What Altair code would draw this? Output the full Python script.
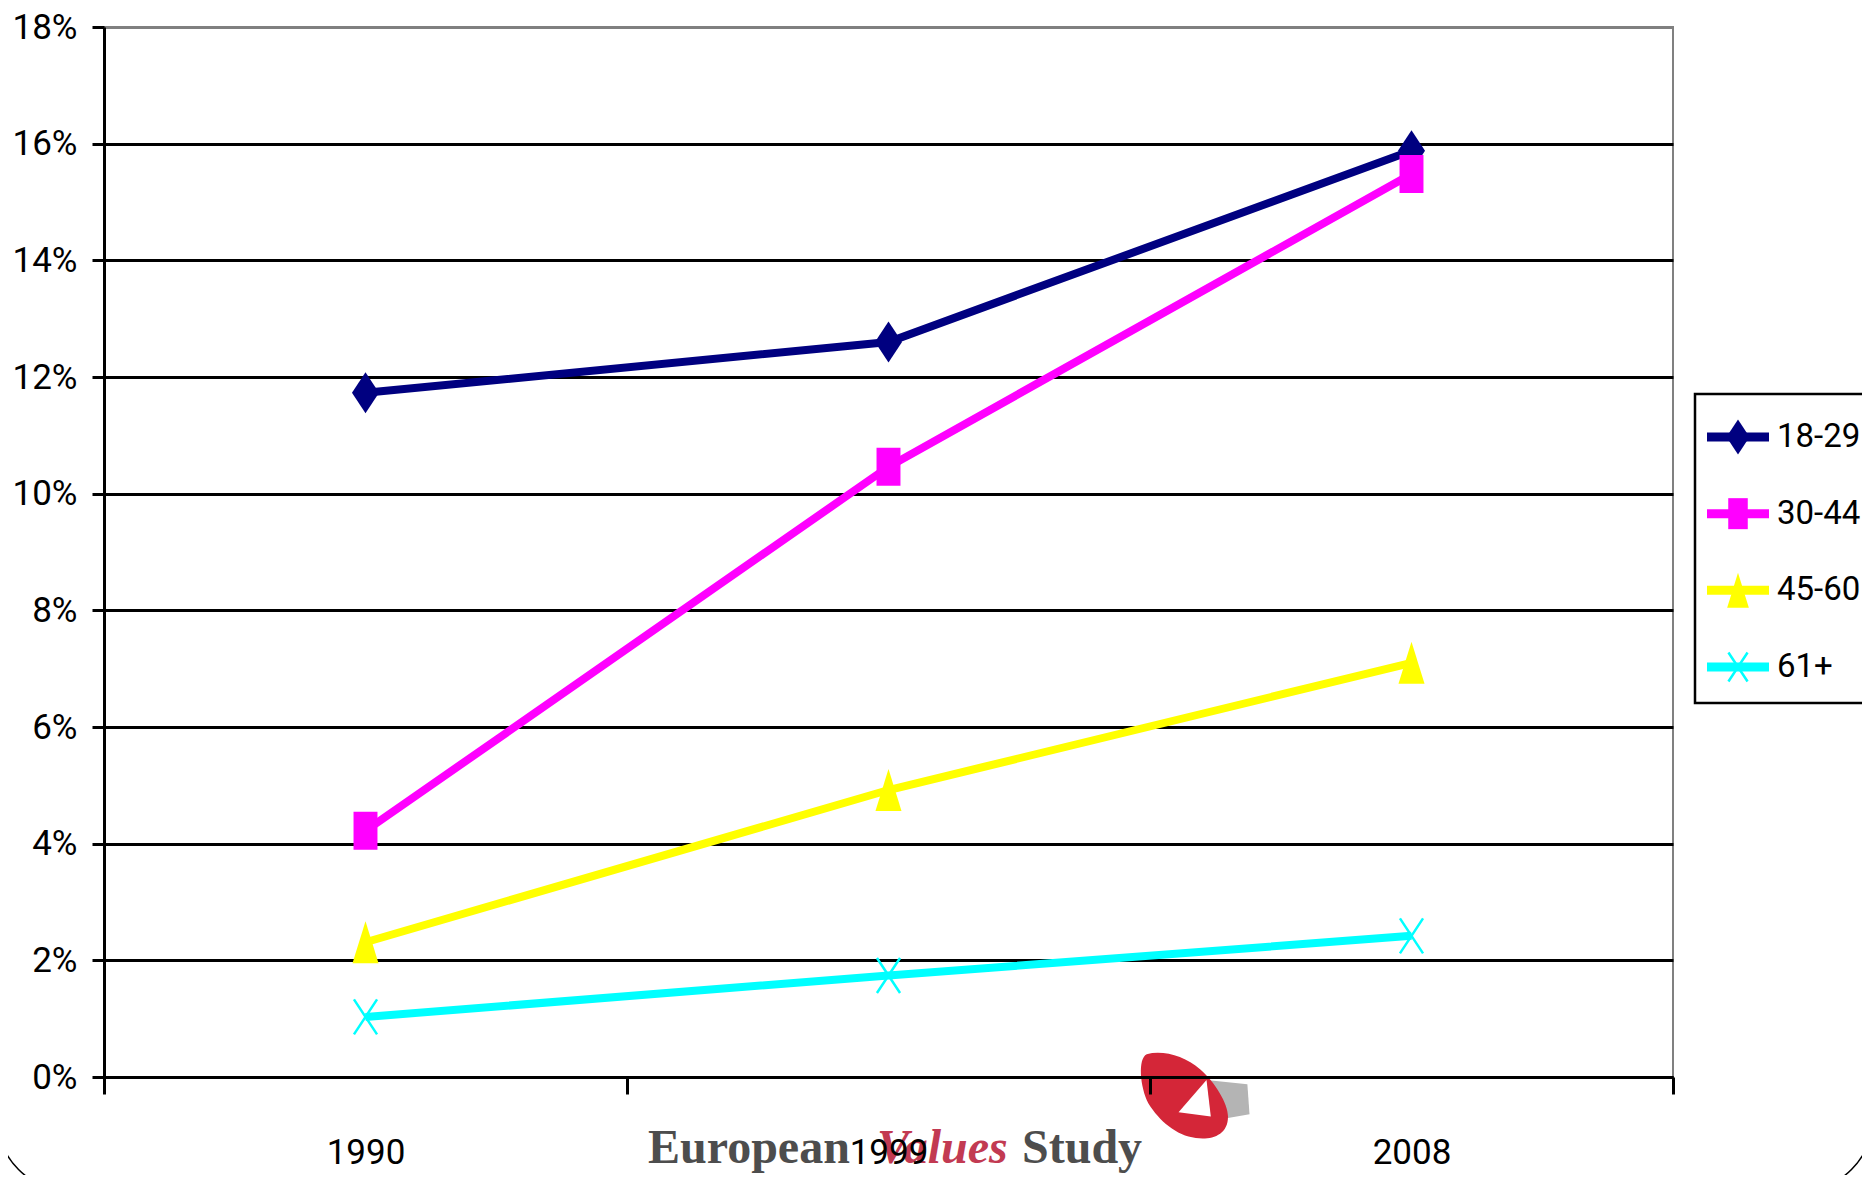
import altair as alt
import pandas as pd

# ---- data ----
years = ["1990", "1999", "2008"]
series = ["18-29", "30-44", "45-60", "61+"]
v_18_29 = [0.1173, 0.1260, 0.1588]
v_30_44 = [0.0422, 0.1046, 0.1548]
v_45_60 = [0.0231, 0.0492, 0.0710]
v_61_plus = [0.0103, 0.0174, 0.0242]
y_ticks = [0, 0.02, 0.04, 0.06, 0.08, 0.10, 0.12, 0.14, 0.16, 0.18]
colors = ["#000080", "#FF00FF", "#FFFF00", "#00FFFF"]

values_by_series = [v_18_29, v_30_44, v_45_60, v_61_plus]
rows = []
for s, vals in zip(series, values_by_series):
    for yr, v in zip(years, vals):
        rows.append({"year": yr, "series": s, "value": v})
df = pd.DataFrame(rows)
legend_df = pd.DataFrame({"series": series})
one = pd.DataFrame({"k": [0]})

# marker shapes (Excel-like, tall)
DIAMOND = "M0,-1L0.66,0L0,1L-0.66,0Z"
SQUARE = "M-0.63,-1L0.63,-1L0.63,1L-0.63,1Z"
TRIANGLE = "M0,-1L0.62,1L-0.62,1Z"
XMARK = "M-0.66,-1L0.66,1M0.66,-1L-0.66,1"
shapes = [DIAMOND, SQUARE, TRIANGLE, XMARK]
sizes = [1681, 1444, 1764, 1225]
legend_sizes = [1225, 961, 1225, 841]

FONT = "Roboto"
FS = 35
SERIF = "Liberation Serif, DejaVu Serif, serif"

color = alt.Color("series:N", scale=alt.Scale(domain=series, range=colors), legend=None)

x_enc = alt.X(
    "year:O",
    scale=alt.Scale(type="band", domain=years, paddingInner=0, paddingOuter=0),
    axis=alt.Axis(
        title=None, labelAngle=0, labelFont=FONT, labelFontSize=FS, labelColor="black",
        labelPadding=41, tickSize=17, tickWidth=3, tickColor="black",
        domainColor="black", domainWidth=3, tickBand="extent", grid=False, zindex=1,
    ),
)
y_enc = alt.Y(
    "value:Q",
    scale=alt.Scale(domain=[0, 0.18], nice=False, zero=True),
    axis=alt.Axis(
        values=y_ticks, format=".0%", title=None, labelFont=FONT, labelFontSize=FS,
        labelColor="black", labelPadding=15, tickSize=12, tickWidth=3, tickColor="black",
        domainColor="black", domainWidth=3, grid=True, gridWidth=3,
        gridColor={"condition": {"test": "datum.value >= 0.179", "value": "#808080"}, "value": "black"},
    ),
)

base = alt.Chart(df)
lines = base.mark_line(strokeWidth=8).encode(x=x_enc, y=y_enc, color=color)

point_layers = []
for s, shp, sz in zip(series, shapes, sizes):
    filled = shp != XMARK
    mk = base.transform_filter(alt.datum.series == s).mark_point(
        shape=shp, size=sz, filled=filled, opacity=1,
        strokeWidth=0 if filled else 2.5,
    ).encode(x=x_enc, y=y_enc, color=color)
    point_layers.append(mk)

main = alt.layer(lines, *point_layers)

# ---- legend (drawn with marks) ----
ly = alt.Y("series:N", scale=alt.Scale(type="point", domain=series, range=[410, 640], padding=0), axis=None)
leg_box = alt.Chart(one).mark_rect(fill="white", stroke="black", strokeWidth=2.5).encode(
    x=alt.value(1591), x2=alt.value(1800), y=alt.value(367), y2=alt.value(676)
)
leg_rules = alt.Chart(legend_df).mark_rule(strokeWidth=9).encode(
    x=alt.value(1603), x2=alt.value(1665), y=ly, color=color
)
leg_pts = []
for s, shp, sz in zip(series, shapes, legend_sizes):
    filled = shp != XMARK
    leg_pts.append(
        alt.Chart(legend_df).transform_filter(alt.datum.series == s).mark_point(
            shape=shp, size=sz, filled=filled, opacity=1, strokeWidth=0 if filled else 2.5
        ).encode(x=alt.value(1634), y=ly, color=color)
    )
leg_text = alt.Chart(legend_df).mark_text(
    align="left", baseline="middle", font=FONT, fontSize=33, color="black"
).encode(x=alt.value(1673), y=ly, text="series:N")

legend = alt.layer(leg_box, leg_rules, *leg_pts, leg_text)

# ---- European Values Study logo ----
LOGO_RED = ("M-0.89,-0.95C-0.5,-1.05,0.0,-0.9,0.35,-0.6C0.7,-0.3,1.0,0.2,1.0,0.5"
            "C1.0,0.95,0.6,1.05,0.25,1.0C-0.2,0.95,-0.6,0.6,-0.85,0.2C-1.05,-0.2,-1.1,-0.85,-0.89,-0.95Z")
LOGO_GRAY = "M0.5,-0.35L1.45,-0.25L1.5,0.45L0.9,0.55Z"
LOGO_HOLE = "M-0.15,0.4L0.5,-0.35L0.6,0.5Z"
logo_gray = alt.Chart(one).mark_point(shape=LOGO_GRAY, size=7400, filled=True, color="#b4b4b4", opacity=1).encode(
    x=alt.value(1081), y=alt.value(1068))
logo_red = alt.Chart(one).mark_point(shape=LOGO_RED, size=7400, filled=True, color="#d42638", opacity=1).encode(
    x=alt.value(1081), y=alt.value(1068))
logo_hole = alt.Chart(one).mark_point(shape=LOGO_HOLE, size=7400, filled=True, color="white", opacity=1).encode(
    x=alt.value(1081), y=alt.value(1068))
t1 = alt.Chart(one).mark_text(text="European", align="left", baseline="alphabetic", font=SERIF,
                              fontSize=48, fontWeight="bold", color="#4d4d4d").encode(
    x=alt.value(544), y=alt.value(1136))
t2 = alt.Chart(one).mark_text(text="Values", align="left", baseline="alphabetic", font=SERIF,
                              fontSize=48, fontWeight="bold", fontStyle="italic", color="#c23a52").encode(
    x=alt.value(773), y=alt.value(1136))
t3 = alt.Chart(one).mark_text(text="Study", align="left", baseline="alphabetic", font=SERIF,
                              fontSize=48, fontWeight="bold", color="#4d4d4d").encode(
    x=alt.value(918), y=alt.value(1136))
frame = alt.Chart(one).mark_rect(fill=None, stroke="black", strokeWidth=1.5, cornerRadius=70, filled=False).encode(
    x=alt.value(-106), x2=alt.value(1768), y=alt.value(-200), y2=alt.value(1163))

deco = alt.layer(frame, logo_gray, logo_red, logo_hole, t1, t2, t3)

chart = alt.layer(main, deco, legend).resolve_scale(y="independent").properties(
    width=1569, height=1050,
    padding={"left": 96, "top": 19, "right": 189, "bottom": 98},
    autosize=alt.AutoSizeParams(type="none"),
).configure_view(stroke="#808080", strokeWidth=2)

chart.save("out.html", embed_options={"renderer": "svg", "actions": False})
